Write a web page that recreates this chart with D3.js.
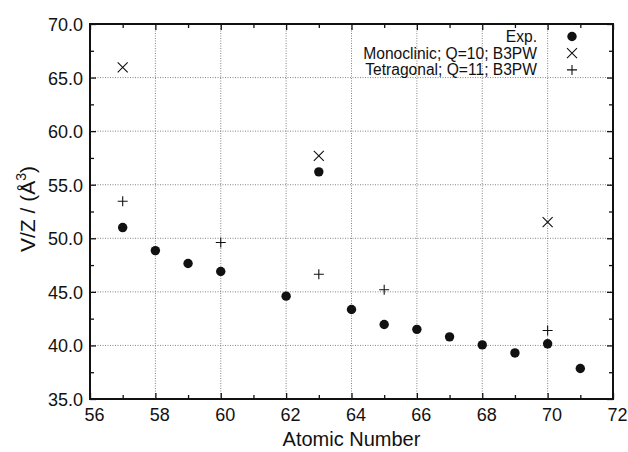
<!DOCTYPE html>
<html>
<head>
<meta charset="utf-8">
<script src="https://cdn.jsdelivr.net/npm/d3@7"></script>
<style>
  body { margin: 0; background: #fff; }
  svg text { font-family: "Liberation Sans", Arial, Helvetica, sans-serif; fill: #111; }
</style>
</head>
<body>
<div id="chart"></div>
<script>
// data
var expZ = [57, 58, 59, 60, 62, 63, 64, 65, 66, 67, 68, 69, 70, 71];
var expV = [51.0, 48.85, 47.65, 46.9, 44.6, 56.2, 43.35, 41.95, 41.5, 40.8, 40.05, 39.3, 40.15, 37.85];
var monoZ = [57, 63, 70];
var monoV = [65.95, 57.7, 51.5];
var tetraZ = [57, 60, 63, 65, 70];
var tetraV = [53.45, 49.6, 46.65, 45.2, 41.4];
var xTicks = [56, 58, 60, 62, 64, 66, 68, 70, 72];
var yTicks = [35, 40, 45, 50, 55, 60, 65, 70];
var legendNames = ["Exp.", "Monoclinic; Q=10; B3PW", "Tetragonal; Q=11; B3PW"];

var W = 628, H = 452;
var m = {left: 90, right: 15, top: 24, bottom: 53};

var svg = d3.select("#chart").append("svg").attr("width", W).attr("height", H);

var x = d3.scaleLinear().domain([56, 72]).range([m.left, W - m.right]);
var y = d3.scaleLinear().domain([35, 70]).range([H - m.bottom, m.top]);

var innerW = W - m.left - m.right, innerH = H - m.top - m.bottom;

// grid
svg.append("g").selectAll("line").data(xTicks.slice(1, -1)).join("line")
    .attr("x1", d => x(d)).attr("x2", d => x(d))
    .attr("y1", y(35)).attr("y2", y(70))
    .attr("stroke", "#666").attr("stroke-width", 0.8).attr("stroke-dasharray", "1,1.5");
svg.append("g").selectAll("line").data(yTicks.slice(1, -1)).join("line")
    .attr("y1", d => y(d)).attr("y2", d => y(d))
    .attr("x1", x(56)).attr("x2", x(72))
    .attr("stroke", "#666").attr("stroke-width", 0.8).attr("stroke-dasharray", "1,1.5");

// axes with inward ticks
var minorX = d3.range(57, 72, 2);
var minorY = d3.range(37.5, 70, 5);

function tickGroup(axis, transform) {
    var g = svg.append("g").attr("transform", transform).call(axis);
    g.select(".domain").remove();
    g.selectAll("line").attr("stroke", "#111").attr("stroke-width", 1.3);
    return g;
}

var xb = tickGroup(d3.axisBottom(x).tickValues(xTicks).tickSize(-6).tickPadding(9).tickFormat(d3.format("d")),
    "translate(0," + y(35) + ")");
xb.selectAll("text").attr("font-size", 18).attr("dx", 4);
tickGroup(d3.axisBottom(x).tickValues(minorX).tickSize(-4).tickFormat(""), "translate(0," + y(35) + ")");
tickGroup(d3.axisTop(x).tickValues(xTicks).tickSize(-6).tickFormat(""), "translate(0," + y(70) + ")");
tickGroup(d3.axisTop(x).tickValues(minorX).tickSize(-4).tickFormat(""), "translate(0," + y(70) + ")");

var yl = tickGroup(d3.axisLeft(y).tickValues(yTicks).tickSize(-6).tickPadding(7).tickFormat(d3.format(".1f")),
    "translate(" + x(56) + ",0)");
yl.selectAll("text").attr("font-size", 18).attr("dy", "0.36em");
tickGroup(d3.axisLeft(y).tickValues(minorY).tickSize(-4).tickFormat(""), "translate(" + x(56) + ",0)");
tickGroup(d3.axisRight(y).tickValues(yTicks).tickSize(-6).tickFormat(""), "translate(" + x(72) + ",0)");
tickGroup(d3.axisRight(y).tickValues(minorY).tickSize(-4).tickFormat(""), "translate(" + x(72) + ",0)");
svg.selectAll(".tick text").attr("fill", "#111").attr("font-family", null);

// frame
svg.append("rect").attr("x", x(56)).attr("y", y(70)).attr("width", innerW).attr("height", innerH)
    .attr("fill", "none").attr("stroke", "#111").attr("stroke-width", 2);

// markers
function cross(g, cx, cy) {
    var s = 5;
    g.append("path").attr("d", "M" + (cx - s) + "," + (cy - s) + "L" + (cx + s) + "," + (cy + s) +
        "M" + (cx - s) + "," + (cy + s) + "L" + (cx + s) + "," + (cy - s))
        .attr("stroke", "#111").attr("stroke-width", 1.1).attr("fill", "none");
}
function plus(g, cx, cy) {
    var s = 5;
    g.append("path").attr("d", "M" + (cx - s) + "," + cy + "L" + (cx + s) + "," + cy +
        "M" + cx + "," + (cy - s) + "L" + cx + "," + (cy + s))
        .attr("stroke", "#111").attr("stroke-width", 1.1).attr("fill", "none");
}

var pts = svg.append("g");
expZ.forEach(function (z, i) {
    pts.append("circle").attr("cx", x(z)).attr("cy", y(expV[i])).attr("r", 4.7).attr("fill", "#111");
});
monoZ.forEach(function (z, i) { cross(pts, x(z), y(monoV[i])); });
tetraZ.forEach(function (z, i) { plus(pts, x(z), y(tetraV[i])); });

// legend
var lg = svg.append("g");
var lx = 537, sx = 572, ly0 = 36.5, dy = 16.7;
legendNames.forEach(function (name, i) {
    lg.append("text").attr("x", lx).attr("y", ly0 + i * dy).attr("dy", "0.35em")
        .attr("text-anchor", "end").attr("font-size", 15.6).text(name);
});
lg.append("circle").attr("cx", sx).attr("cy", ly0).attr("r", 4.7).attr("fill", "#111");
cross(lg, sx, ly0 + dy);
plus(lg, sx, ly0 + 2 * dy);

// axis titles
svg.append("text").attr("x", (x(56) + x(72)) / 2).attr("y", 446)
    .attr("text-anchor", "middle").attr("font-size", 20).text("Atomic Number");
var yt = svg.append("text").attr("transform", "translate(35,209) rotate(-90)")
    .attr("text-anchor", "middle").attr("font-size", 21);
yt.append("tspan").text("V/Z / (Å");
yt.append("tspan").attr("font-size", 14).attr("dy", -9).text("3");
yt.append("tspan").attr("dy", 9).text(")");
</script>
</body>
</html>
